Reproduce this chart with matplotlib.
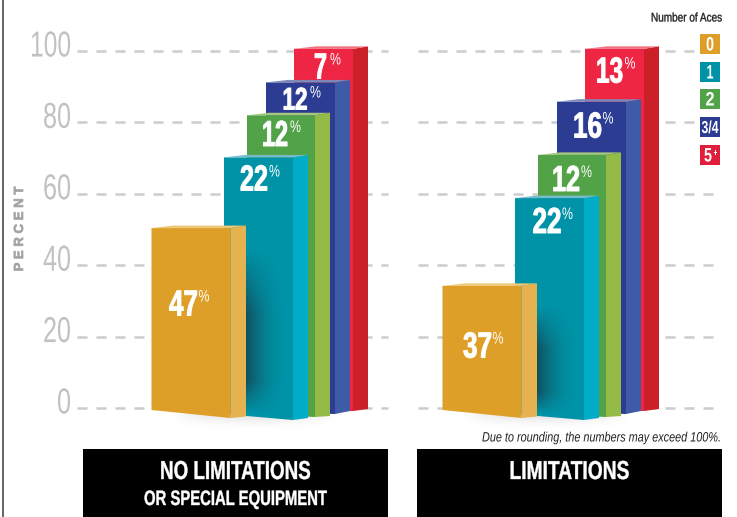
import numpy as np
import matplotlib
matplotlib.use('Agg')
import matplotlib.pyplot as plt
from matplotlib.patches import Polygon, Rectangle
from matplotlib.patheffects import AbstractPathEffect
from matplotlib.transforms import Affine2D

W, H = 737, 517
plt.rcParams['font.family'] = ['Liberation Sans', 'DejaVu Sans']

# data
aces = ['0', '1', '2', '3/4', '5']
colors_front = ['#DD9F27', '#0093A7', '#52A348', '#2C3C93', '#EE2543']
colors_side = ['#E6B24F', '#00ADC9', '#94BB45', '#3F5AA6', '#CC2029']
colors_top = ['#EFC877', '#74BCCB', '#A5C97A', '#7C87BA', '#F0707F']
colors_legend = ['#DD9F27', '#0093A7', '#52A348', '#2C3C93', '#E01F3A']
no_lim_vals = [47, 22, 12, 12, 7]
lim_vals = [37, 22, 12, 16, 13]
no_lim_tops = [50.4, 70.2, 82, 91.2, 100.6]
lim_tops = [34.2, 58.8, 70.9, 85.8, 100.6]
yticks = [0, 20, 40, 60, 80, 100]

# geometry in pixels
y0, per = 408, 3.57
fx0 = [151.5, 224, 247, 266, 294]
fx1 = [230.5, 293, 315, 335, 353]
sx1 = [246, 308, 330, 350, 368]
fbl = [410, 414, 414, 412, 410]
fbr = [418, 420, 417, 414, 411]
sbr = [416.5, 418, 416, 411, 409]
offset = 291
lab_left = [(183.5, 302), (254, 177), (275, 132.5), (295, 98), (320.5, 65)]
lab_right = [(477.5, 344), (547, 219.5), (566, 177.5), (587.5, 124), (609.5, 69)]
lab_size_left = [26, 26, 26, 22.5, 26]
lab_w_left = [29, 28, 26, 25, 13]
lab_w_right = [29, 29, 28, 29, 27]


def py(p):
    return (y0 - p) / per


class Squeeze(AbstractPathEffect):
    # narrows glyphs sideways around a pivot, no condensed font here
    def __init__(self, sx, cx, stroke=0):
        super().__init__()
        self.sx, self.cx, self.stroke = sx, cx, stroke

    def draw_path(self, renderer, gc, tpath, affine, rgbFace=None):
        tr = affine + Affine2D().translate(-self.cx, 0).scale(self.sx, 1).translate(self.cx, 0)
        gc0 = renderer.new_gc()
        gc0.copy_properties(gc)
        if self.stroke:
            gc0.set_linewidth(self.stroke)
            gc0.set_foreground(rgbFace)
        renderer.draw_path(gc0, tpath, tr, rgbFace)
        gc0.restore()


fig = plt.figure(figsize=(W / 100, H / 100), dpi=100)
ax = fig.add_axes([0, 0, 1, 1])
ax.set_xlim(0, W)
ax.set_ylim(py(H), py(0))
ax.axis('off')
rend = fig.canvas.get_renderer()


def txt(x, ypx, s, size, width, ha='center', stroke=0, **kw):
    t = ax.text(x, py(ypx), s, ha=ha, va='center_baseline', fontsize=size, **kw)
    t.set_path_effects([Squeeze(width / t.get_window_extent(rend).width, x, stroke)])
    return t


# frame line on the left
ax.plot([3.5, 3.5], [py(0), py(H)], color='#4a4a4a', lw=1.2)

# grid
tick_w = [14, 28, 28, 28, 28, 41]
for k, t in enumerate(yticks):
    for a, b in [(77, 388), (418, 722)]:
        ax.plot([a, b], [t, t], color='#cbcccd', lw=1.8, dashes=(4, 3.6), zorder=1)
    txt(71, y0 - t * per - 8, str(t), 26, tick_w[k], ha='right', color='#bfc1c3')

pct = ax.text(20, py(229), 'P E R C E N T', rotation=90, ha='center', va='center',
              fontsize=9.5, fontweight='bold', color='#a0a2a4')
pct.set_path_effects([Squeeze(1, 20, 0.5)])


def draw_group(tops, vals, dx, labs, sizes, widths):
    # soft shadow on the floor
    gx = np.linspace(-1, 1, 120)
    gy = np.linspace(0, 1, 30)
    img = np.zeros((30, 120, 4))
    img[..., 3] = (1 - gx[None, :] ** 2) * (1 - gy[:, None]) ** 2 * 0.13
    ax.imshow(img, extent=[170 + dx, 340 + dx, py(432), py(414)], origin='upper',
              aspect='auto', zorder=2)
    for i in range(4, -1, -1):
        z = 3 + (4 - i)
        a, b, c = fx0[i] + dx, fx1[i] + dx, sx1[i] + dx
        top = tops[i]
        back = top + 2.5 / per
        ax.add_patch(Polygon([(a, py(fbl[i])), (b, py(fbr[i])), (b, top), (a, top)],
                             fc=colors_front[i], ec='none', zorder=z))
        ax.add_patch(Polygon([(b, py(fbr[i])), (c, py(sbr[i])), (c, back), (b, top)],
                             fc=colors_side[i], ec='none', zorder=z))
        ax.add_patch(Polygon([(a, top), (b, top), (c, back), (a + 22, back)],
                             fc=colors_top[i], ec='none', zorder=z))
        if i == 1:
            # shadow the front bar throws on the teal one
            xs = np.linspace(0, 1, 80)
            ys = np.linspace(0, 1, 80)
            sh = np.zeros((80, 80, 4))
            sh[..., :3] = (0.08, 0.27, 0.32)
            sh[..., 3] = (1 - xs[None, :]) ** 2 * np.clip(ys[:, None] * 2.5, 0, 1) \
                * np.clip((1 - ys[:, None]) * 5, 0, 1) * 0.85
            im = ax.imshow(sh, extent=[sx1[0] + dx, b - 4, py(415), tops[0] - 20 / per],
                           origin='upper', aspect='auto', zorder=z)
            im.set_clip_path(Polygon([(a, py(fbl[i])), (b, py(fbr[i])), (b, top), (a, top)],
                                     transform=ax.transData))
    for i in range(5):
        x, y = labs[i]
        s = str(vals[i])
        txt(x, y, s, sizes[i], widths[i], stroke=0.7, fontweight='bold', color='white', zorder=10)
        pdx = 20.5 if len(s) == 2 else 15
        txt(x + pdx, y - 6.5, '%', 12, 11, color='white', zorder=10)


draw_group(no_lim_tops, no_lim_vals, 0, lab_left, lab_size_left, lab_w_left)
draw_group(lim_tops, lim_vals, offset, lab_right, [26] * 5, lab_w_right)

ax.set_xlim(0, W)
ax.set_ylim(py(H), py(0))

# legend
txt(722, 17, 'Number of Aces', 9, 71, ha='right', stroke=0.25, color='#222222')
leg_y = [34, 62, 89, 117, 145]
leg_w = [8, 7, 9, 17, 8]
for i, lab in enumerate(aces):
    ax.add_patch(Rectangle((700, py(leg_y[i] + 20)), 20, 20 / per,
                           fc=colors_legend[i], ec='none', zorder=4))
    x = 710 if i != 4 else 708
    txt(x, leg_y[i] + 10, lab, 14 if i != 3 else 12.5, leg_w[i], fontweight='bold',
        color='white', zorder=5)
txt(715.5, leg_y[4] + 7, '+', 7, 4, fontweight='bold', color='white', zorder=5)

txt(722, 436, 'Due to rounding, the numbers may exceed 100%.', 9.8, 240, ha='right',
    style='italic', color='#222222')

# panels
ax.add_patch(Rectangle((83, py(517)), 305, 68 / per, fc='black', ec='none', zorder=4))
ax.add_patch(Rectangle((417, py(517)), 305, 68 / per, fc='black', ec='none', zorder=4))
txt(235.5, 469.5, 'NO LIMITATIONS', 18.7, 151, stroke=0.3, fontweight='bold', color='white', zorder=5)
txt(235.5, 497.5, 'OR SPECIAL EQUIPMENT', 15, 183, stroke=0.3, fontweight='bold', color='white', zorder=5)
txt(569.5, 469.5, 'LIMITATIONS', 18.7, 120, stroke=0.3, fontweight='bold', color='white', zorder=5)

fig.savefig('out.png', dpi=100)
